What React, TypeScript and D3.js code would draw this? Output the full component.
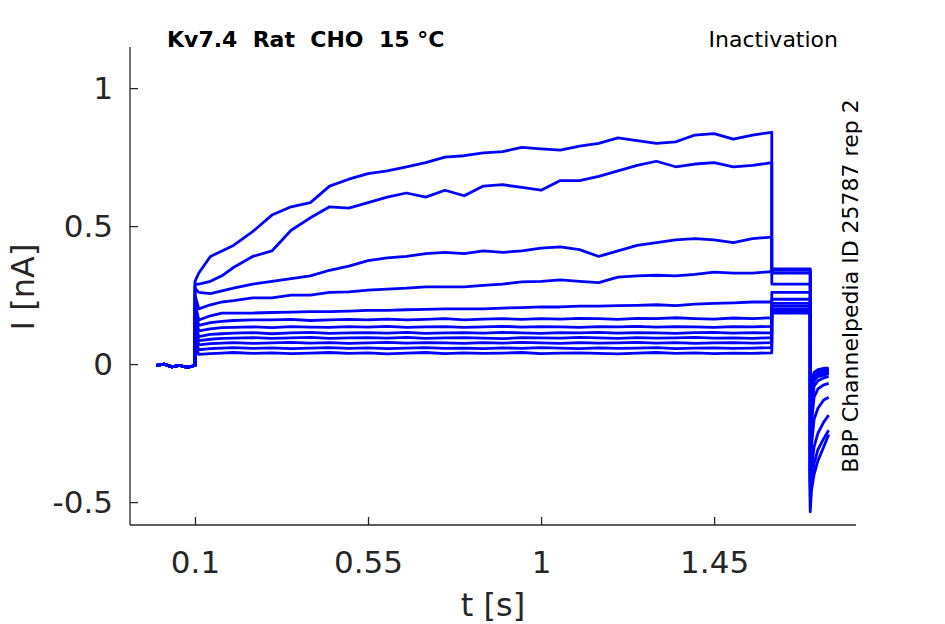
import { useEffect, useRef } from "react"
import * as d3 from "d3"

// time grid of the test pulse (s)
const pulseTimes = [
  0.1, 0.11, 0.14, 0.17, 0.2, 0.25, 0.3, 0.35, 0.4, 0.45, 0.5, 0.55, 0.6, 0.65, 0.7, 0.75, 0.8,
  0.85, 0.9, 0.95, 1.0, 1.05, 1.1, 1.15, 1.2, 1.25, 1.3, 1.35, 1.4, 1.45, 1.5, 1.55, 1.6,
]

// currents (nA) of each sweep on pulseTimes
const trace1 = [
  0.3, 0.33, 0.39, 0.41, 0.43, 0.48, 0.54, 0.57, 0.585, 0.645, 0.67, 0.69, 0.7, 0.715, 0.73, 0.75, 0.755,
  0.765, 0.77, 0.785, 0.78, 0.775, 0.79, 0.8, 0.82, 0.81, 0.8, 0.805, 0.83, 0.835, 0.815, 0.83, 0.84,
]
const trace2 = [
  0.29, 0.29, 0.3, 0.32, 0.35, 0.39, 0.41, 0.485, 0.53, 0.57, 0.565, 0.585, 0.605, 0.62, 0.605, 0.63, 0.61,
  0.645, 0.65, 0.64, 0.63, 0.665, 0.665, 0.68, 0.7, 0.72, 0.735, 0.715, 0.725, 0.73, 0.715, 0.72, 0.73,
]
const trace3 = [
  0.275, 0.26, 0.255, 0.265, 0.275, 0.29, 0.3, 0.31, 0.32, 0.34, 0.355, 0.375, 0.385, 0.39, 0.4, 0.405, 0.4,
  0.41, 0.405, 0.41, 0.42, 0.425, 0.415, 0.39, 0.41, 0.43, 0.44, 0.45, 0.455, 0.45, 0.44, 0.455, 0.46,
]
const trace4 = [
  0.25, 0.2, 0.215, 0.225, 0.23, 0.24, 0.24, 0.25, 0.25, 0.26, 0.262, 0.268, 0.272, 0.275, 0.28, 0.28, 0.28,
  0.285, 0.29, 0.298, 0.3, 0.305, 0.3, 0.295, 0.315, 0.32, 0.322, 0.32, 0.325, 0.333, 0.33, 0.33, 0.335,
]
const trace5 = [
  0.22, 0.16, 0.175, 0.185, 0.185, 0.185, 0.187, 0.188, 0.19, 0.19, 0.192, 0.195, 0.195, 0.197, 0.198, 0.2, 0.2,
  0.2, 0.203, 0.205, 0.207, 0.207, 0.21, 0.21, 0.212, 0.213, 0.215, 0.212, 0.217, 0.22, 0.222, 0.225, 0.225,
]
const trace6 = [
  0.2, 0.14, 0.15, 0.155, 0.158, 0.16, 0.16, 0.162, 0.158, 0.16, 0.162, 0.16, 0.163, 0.16, 0.162, 0.165, 0.16,
  0.163, 0.165, 0.162, 0.165, 0.163, 0.166, 0.165, 0.162, 0.166, 0.165, 0.168, 0.165, 0.163, 0.167, 0.165, 0.168,
]
const trace7 = [
  0.17, 0.12, 0.128, 0.132, 0.133, 0.135, 0.132, 0.136, 0.134, 0.133, 0.136, 0.134, 0.137, 0.133, 0.135, 0.136, 0.133,
  0.135, 0.137, 0.134, 0.136, 0.135, 0.133, 0.136, 0.135, 0.137, 0.134, 0.136, 0.135, 0.133, 0.136, 0.135, 0.137,
]
const trace8 = [
  0.15, 0.1, 0.108, 0.11, 0.112, 0.114, 0.11, 0.113, 0.115, 0.111, 0.113, 0.114, 0.112, 0.115, 0.111, 0.113, 0.114,
  0.112, 0.115, 0.113, 0.111, 0.114, 0.113, 0.115, 0.112, 0.114, 0.113, 0.111, 0.114, 0.115, 0.112, 0.114, 0.113,
]
const trace9 = [
  0.13, 0.085, 0.09, 0.093, 0.094, 0.096, 0.093, 0.095, 0.097, 0.093, 0.095, 0.096, 0.094, 0.097, 0.093, 0.095, 0.096,
  0.094, 0.092, 0.096, 0.095, 0.094, 0.097, 0.095, 0.093, 0.096, 0.094, 0.095, 0.097, 0.094, 0.095, 0.093, 0.096,
]
const trace10 = [
  0.11, 0.07, 0.074, 0.076, 0.078, 0.075, 0.077, 0.079, 0.076, 0.078, 0.075, 0.077, 0.079, 0.076, 0.078, 0.077, 0.075,
  0.078, 0.076, 0.079, 0.077, 0.075, 0.078, 0.076, 0.077, 0.079, 0.076, 0.078, 0.075, 0.077, 0.078, 0.076, 0.078,
]
const trace11 = [
  0.09, 0.052, 0.056, 0.058, 0.06, 0.057, 0.059, 0.056, 0.058, 0.06, 0.057, 0.059, 0.056, 0.058, 0.06, 0.057, 0.058,
  0.056, 0.059, 0.057, 0.06, 0.058, 0.056, 0.059, 0.057, 0.058, 0.06, 0.056, 0.058, 0.059, 0.057, 0.058, 0.06,
]
const trace12 = [
  0.07, 0.035, 0.038, 0.04, 0.042, 0.039, 0.041, 0.038, 0.04, 0.042, 0.039, 0.041, 0.037, 0.04, 0.042, 0.038, 0.041,
  0.039, 0.04, 0.042, 0.038, 0.04, 0.041, 0.039, 0.037, 0.04, 0.042, 0.039, 0.041, 0.038, 0.04, 0.039, 0.041,
]
const pulseTraces = [trace1, trace2, trace3, trace4, trace5, trace6, trace7, trace8, trace9, trace10, trace11, trace12]

// holding baseline before the pulse
const baseTimes = [0.0, 0.02, 0.04, 0.06, 0.08, 0.1]
const baseValues = [-0.005, 0.0, -0.01, -0.005, -0.012, -0.005]

// tail step (1.6 - 1.7 s), one level per sweep
const tailTimes = [1.6, 1.7]
const tailLevels = [0.345, 0.34, 0.33, 0.29, 0.26, 0.235, 0.22, 0.21, 0.2, 0.195, 0.19, 0.185]

// return to holding (1.7 - 1.75 s)
const offTimes = [1.7, 1.703, 1.71, 1.72, 1.735, 1.748]
const offCurrents = [
  [-0.535, -0.46, -0.4, -0.35, -0.3, -0.255],
  [-0.52, -0.42, -0.36, -0.31, -0.27, -0.24],
  [-0.5, -0.38, -0.3, -0.25, -0.21, -0.185],
  [-0.48, -0.3, -0.2, -0.16, -0.13, -0.12],
  [-0.46, -0.22, -0.12, -0.09, -0.075, -0.07],
  [-0.45, -0.17, -0.08, -0.06, -0.05, -0.045],
  [-0.44, -0.14, -0.06, -0.045, -0.04, -0.035],
  [-0.43, -0.12, -0.05, -0.04, -0.035, -0.03],
  [-0.42, -0.1, -0.045, -0.035, -0.03, -0.025],
  [-0.41, -0.09, -0.04, -0.03, -0.025, -0.02],
  [-0.4, -0.08, -0.035, -0.025, -0.02, -0.02],
  [-0.39, -0.07, -0.03, -0.02, -0.015, -0.015],
]

const xTicks = [0.1, 0.55, 1, 1.45]
const yTicks = [-0.5, 0, 0.5, 1]

export default function App() {
  const svgRef = useRef<SVGSVGElement>(null)

  useEffect(() => {
    if (!svgRef.current) return
    const left = 130
    const right = 856
    const top = 47
    const bottom = 525
    const ink = "#262626"

    const root = d3.select(svgRef.current)
    root.selectAll("*").remove()

    const x = d3.scaleLinear().domain([-0.069, 1.819]).range([left, right])
    const y = d3.scaleLinear().domain([-0.583, 1.149]).range([bottom, top])

    // Sweeps
    const line = d3
      .line<[number, number]>()
      .x((d) => x(d[0]))
      .y((d) => y(d[1]))

    pulseTraces.forEach((tr, i) => {
      const pts: [number, number][] = []
      baseTimes.forEach((t, k) => pts.push([t, baseValues[k]]))
      pulseTimes.forEach((t, k) => pts.push([t, tr[k]]))
      tailTimes.forEach((t) => pts.push([t, tailLevels[i]]))
      offTimes.forEach((t, k) => pts.push([t, offCurrents[i][k]]))
      root
        .append("path")
        .attr("d", line(pts))
        .attr("fill", "none")
        .attr("stroke", "#0000ff")
        .attr("stroke-width", 2.8)
        .attr("stroke-linejoin", "round")
    })

    const fmt = (d: d3.NumberValue) => String(d)

    // Y axis
    const yAxis = root
      .append("g")
      .attr("transform", `translate(${left},0)`)
      .call(d3.axisLeft(y).tickValues(yTicks).tickSize(-8).tickSizeOuter(0).tickPadding(17).tickFormat(fmt))
    yAxis.select(".domain").attr("stroke", ink).attr("stroke-width", 1.3).attr("d", `M0,${top}V${bottom}`)
    yAxis.selectAll("line").attr("stroke", ink).attr("stroke-width", 1.3)
    yAxis
      .selectAll("text")
      .attr("fill", ink)
      .style("font-family", "DejaVu Sans")
      .style("font-size", "31px")

    // X axis
    const xAxis = root
      .append("g")
      .attr("transform", `translate(0,${bottom})`)
      .call(d3.axisBottom(x).tickValues(xTicks).tickSize(-8).tickSizeOuter(0).tickPadding(26).tickFormat(fmt))
    xAxis.select(".domain").attr("stroke", ink).attr("stroke-width", 1.3).attr("d", `M${left},0H${right}`)
    xAxis.selectAll("line").attr("stroke", ink).attr("stroke-width", 1.3)
    xAxis
      .selectAll("text")
      .attr("fill", ink)
      .style("font-family", "DejaVu Sans")
      .style("font-size", "31px")

    // Axis labels
    root
      .append("text")
      .attr("x", (left + right) / 2)
      .attr("y", 616)
      .attr("text-anchor", "middle")
      .attr("fill", ink)
      .style("font-family", "DejaVu Sans")
      .style("font-size", "32px")
      .text("t [s]")

    root
      .append("text")
      .attr("transform", `translate(34,287) rotate(-90)`)
      .attr("text-anchor", "middle")
      .attr("fill", ink)
      .style("font-family", "DejaVu Sans")
      .style("font-size", "32px")
      .text("I [nA]")

    // Titles
    root
      .append("text")
      .attr("x", 167)
      .attr("y", 47)
      .attr("fill", "#000")
      .style("font-family", "DejaVu Sans")
      .style("font-weight", "bold")
      .style("font-size", "22px")
      .style("white-space", "pre")
      .text("Kv7.4  Rat  CHO  15 °C")

    root
      .append("text")
      .attr("x", 838)
      .attr("y", 47)
      .attr("text-anchor", "end")
      .attr("fill", "#000")
      .style("font-family", "DejaVu Sans")
      .style("font-size", "22px")
      .text("Inactivation")

    root
      .append("text")
      .attr("transform", `translate(858,286) rotate(-90)`)
      .attr("text-anchor", "middle")
      .attr("fill", "#000")
      .style("font-family", "DejaVu Sans")
      .style("font-size", "22px")
      .text("BBP Channelpedia ID 25787 rep 2")
  }, [])

  return (
    <svg
      ref={svgRef}
      width={945}
      height={624}
      style={{ position: "absolute", left: 0, top: 0, background: "#fff" }}
    />
  )
}
